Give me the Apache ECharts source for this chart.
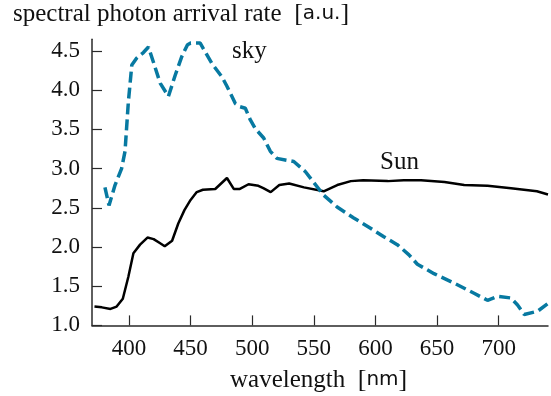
<!DOCTYPE html>
<html><head><meta charset="utf-8">
<script src="https://cdn.jsdelivr.net/npm/echarts@6/dist/echarts.min.js"></script>
<style>html,body{margin:0;padding:0;background:#fff}#c{width:551px;height:396px}</style>
</head><body><div id="c"></div>
<script>
const sunWavelength = [372,378,385,390,395,399.5,403.6,409,415,420,425,429,435,440,445,450,455,460,470,479.5,485,490,497,505,509,515,522,530,542,558,569,580,590,610,623,637,656,672,691,710,731,740];
const sunRate =       [1.24,1.23,1.21,1.24,1.34,1.62,1.92,2.03,2.12,2.10,2.05,2.01,2.08,2.30,2.47,2.60,2.70,2.73,2.74,2.88,2.74,2.74,2.80,2.78,2.75,2.70,2.79,2.81,2.76,2.71,2.79,2.84,2.85,2.84,2.85,2.85,2.83,2.79,2.78,2.75,2.71,2.67];
const skyWavelength = [380.5,383.8,388.7,394,396.8,399.5,402.3,406.3,411.7,415.8,419.8,425.3,432,437.5,442.9,447.5,450,457.8,467.3,475.4,479.5,486.3,490,494.4,498.5,502.5,509.3,514.7,520,533.7,543.2,548.6,558,568.9,582.4,596,606.8,617.7,627.2,634,647.5,663.7,680,690.9,699,709.8,715.3,720.7,731.5,740];
const skyRate =       [2.76,2.53,2.79,3.00,3.22,3.85,4.32,4.41,4.48,4.55,4.36,4.09,3.92,4.19,4.43,4.58,4.60,4.60,4.34,4.17,4.05,3.83,3.79,3.77,3.62,3.51,3.39,3.22,3.13,3.09,2.96,2.85,2.66,2.51,2.37,2.24,2.13,2.03,1.90,1.78,1.66,1.54,1.41,1.32,1.37,1.35,1.26,1.14,1.18,1.28];
const xTicks = [400,450,500,550,600,650,700];
const yTicks = [1.0,1.5,2.0,2.5,3.0,3.5,4.0,4.5];
const yTitle = 'spectral photon arrival rate';
const yUnit = 'a.u.';
const xTitle = 'wavelength';
const xUnit = 'nm';

const serif = '"Liberation Serif", "DejaVu Serif", serif';
const sans = '"DejaVu Sans", "Liberation Sans", sans-serif';
const chart = echarts.init(document.getElementById('c'), null, {renderer: 'canvas'});
const axisCommon = {
  axisLine: {show: true, onZero: false, lineStyle: {color: '#2a2a2a', width: 1.5}},
  axisTick: {show: true, inside: true, length: 10, lineStyle: {color: '#2a2a2a', width: 1.2}},
  splitLine: {show: false}
};
const richUnits = {b: {fontFamily: serif, fontSize: 26, fill: '#111'}, u: {fontFamily: sans, fontSize: 20, fill: '#111'}};
chart.setOption({
  animation: false,
  backgroundColor: '#fff',
  grid: {left: 92, right: 3, top: 39.2, bottom: 70.6, containLabel: false},
  xAxis: Object.assign({}, axisCommon, {
    type: 'value', min: 370, max: 740,
    axisTick: Object.assign({}, axisCommon.axisTick, {customValues: xTicks}),
    axisLabel: {customValues: xTicks, color: '#111', fontFamily: serif, fontSize: 23, margin: 12}
  }),
  yAxis: Object.assign({}, axisCommon, {
    type: 'value', min: 1.0, max: 4.65,
    axisTick: Object.assign({}, axisCommon.axisTick, {customValues: yTicks}),
    axisLabel: {customValues: yTicks, color: '#111', fontFamily: serif, fontSize: 23, margin: 12,
      formatter: v => v.toFixed(1)}
  }),
  series: [
    {type: 'line', data: sunWavelength.map((x, i) => [x, sunRate[i]]), showSymbol: false,
     lineStyle: {color: '#000', width: 2.5}, z: 2},
    {type: 'line', data: skyWavelength.map((x, i) => [x, skyRate[i]]), showSymbol: false,
     lineStyle: {color: '#0779a1', width: 3.5, type: [11, 5]}, z: 3}
  ],
  graphic: [
    {type: 'text', left: 13, top: 1, style: {
      text: yTitle + '  {b|[}{u|' + yUnit + '}{b|]}', fill: '#111', font: '25px ' + serif, rich: richUnits
    }},
    {type: 'text', left: 230, top: 367, style: {
      text: xTitle + '  {b|[}{u|' + xUnit + '}{b|]}', fill: '#111', font: '25px ' + serif, rich: richUnits
    }},
    {type: 'text', left: 232, top: 39, style: {text: 'sky', fill: '#111', font: '25px ' + serif}},
    {type: 'text', left: 380, top: 150, style: {text: 'Sun', fill: '#111', font: '25px ' + serif}}
  ]
});
</script>
</body></html>
